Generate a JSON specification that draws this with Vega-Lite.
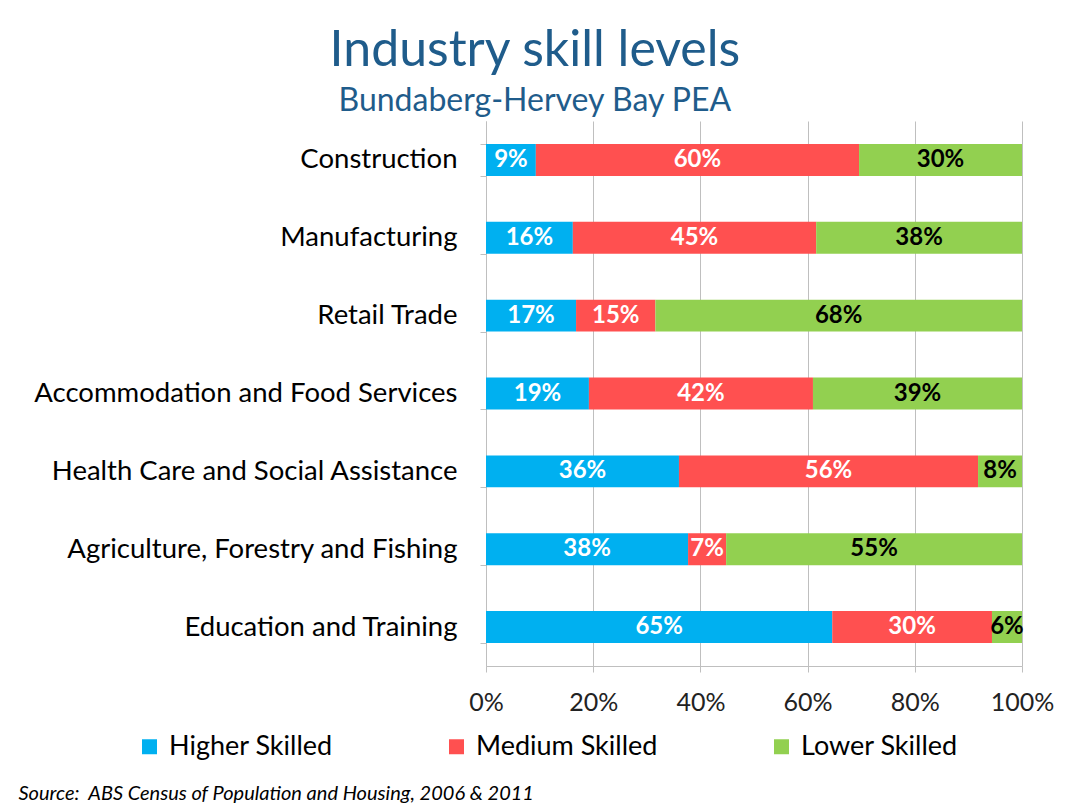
{
  "$schema": "https://vega.github.io/schema/vega-lite/v6.json",
  "width": 536,
  "height": 545,
  "padding": {"left": 16, "top": 26, "right": 20, "bottom": 5},
  "background": "white",
  "config": {"view": {"stroke": null}, "font": "Lato"},
  "title": {
    "text": "Industry skill levels",
    "subtitle": "Bundaberg-Hervey Bay PEA",
    "anchor": "middle",
    "frame": "bounds",
    "font": "Lato",
    "fontSize": 50,
    "fontWeight": "normal",
    "color": "#1F5C8B",
    "subtitleFont": "Lato",
    "subtitleFontSize": 32,
    "subtitleColor": "#1F5C8B",
    "subtitlePadding": 10,
    "offset": -10
  },
  "data": {
    "values": [
      {"industry": "Construction", "skill": "Higher Skilled", "share": 0.093},
      {"industry": "Construction", "skill": "Medium Skilled", "share": 0.603},
      {"industry": "Construction", "skill": "Lower Skilled", "share": 0.304},
      {"industry": "Manufacturing", "skill": "Higher Skilled", "share": 0.162},
      {"industry": "Manufacturing", "skill": "Medium Skilled", "share": 0.454},
      {"industry": "Manufacturing", "skill": "Lower Skilled", "share": 0.384},
      {"industry": "Retail Trade", "skill": "Higher Skilled", "share": 0.168},
      {"industry": "Retail Trade", "skill": "Medium Skilled", "share": 0.148},
      {"industry": "Retail Trade", "skill": "Lower Skilled", "share": 0.684},
      {"industry": "Accommodation and Food Services", "skill": "Higher Skilled", "share": 0.192},
      {"industry": "Accommodation and Food Services", "skill": "Medium Skilled", "share": 0.418},
      {"industry": "Accommodation and Food Services", "skill": "Lower Skilled", "share": 0.39},
      {"industry": "Health Care and Social Assistance", "skill": "Higher Skilled", "share": 0.36},
      {"industry": "Health Care and Social Assistance", "skill": "Medium Skilled", "share": 0.558},
      {"industry": "Health Care and Social Assistance", "skill": "Lower Skilled", "share": 0.082},
      {"industry": "Agriculture, Forestry and Fishing", "skill": "Higher Skilled", "share": 0.377},
      {"industry": "Agriculture, Forestry and Fishing", "skill": "Medium Skilled", "share": 0.071},
      {"industry": "Agriculture, Forestry and Fishing", "skill": "Lower Skilled", "share": 0.552},
      {"industry": "Education and Training", "skill": "Higher Skilled", "share": 0.646},
      {"industry": "Education and Training", "skill": "Medium Skilled", "share": 0.298},
      {"industry": "Education and Training", "skill": "Lower Skilled", "share": 0.056}
    ]
  },
  "transform": [
    {"calculate": "indexof(['Higher Skilled','Medium Skilled','Lower Skilled'], datum.skill)", "as": "k"},
    {"stack": "share", "groupby": ["industry"], "sort": [{"field": "k", "order": "ascending"}], "as": ["x0", "x1"]},
    {"calculate": "(datum.x0 + datum.x1) / 2", "as": "xm"}
  ],
  "encoding": {
    "y": {
      "field": "industry",
      "type": "nominal",
      "sort": null,
      "scale": {"paddingInner": 0.59, "paddingOuter": 0.295},
      "axis": {
        "title": null,
        "labelFont": "Lato",
        "labelFontSize": 27.5,
        "labelColor": "black",
        "labelLimit": 600,
        "labelPadding": 23,
        "tickBand": "extent",
        "tickSize": 6,
        "tickColor": "#BFBFBF",
        "domainColor": "#BFBFBF",
        "minExtent": 470,
        "maxExtent": 470,
        "grid": false
      }
    }
  },
  "layer": [
    {
      "mark": {"type": "bar"},
      "encoding": {
        "x": {
          "field": "x0",
          "type": "quantitative",
          "title": "Source:\u00a0 ABS Census of Population and Housing, 2006 & 2011",
          "scale": {"domain": [0, 1], "nice": false},
          "axis": {
            "format": ".0%",
            "values": [0, 0.2, 0.4, 0.6, 0.8, 1],
            "labelFont": "Lato",
            "labelFontSize": 25,
            "labelColor": "#222222",
            "labelFlush": false,
            "labelOverlap": false,
            "labelPadding": 18,
            "tickColor": "#BFBFBF",
            "tickSize": 6,
            "domainColor": "#BFBFBF",
            "grid": true,
            "gridColor": "#BFBFBF",
            "titleFont": "Lato",
            "titleFontStyle": "italic",
            "titleFontWeight": "normal",
            "titleFontSize": 20,
            "titleColor": "black",
            "titleAnchor": "start",
            "titleAlign": "left",
            "titleX": -468,
            "titleY": 133,
            "titleBaseline": "alphabetic"
          }
        },
        "x2": {"field": "x1"},
        "color": {
          "field": "skill",
          "type": "nominal",
          "scale": {"domain": ["Higher Skilled", "Medium Skilled", "Lower Skilled"], "range": ["#00B0F0", "#FF5050", "#92D050"]},
          "legend": {
            "orient": "none",
            "legendX": -350,
            "legendY": 612,
            "direction": "horizontal",
            "title": null,
            "symbolType": "square",
            "symbolSize": 225,
            "symbolStrokeWidth": 0,
            "labelFont": "Lato",
            "labelFontSize": 27,
            "labelColor": "black",
            "labelLimit": 400,
            "columnPadding": 110,
            "labelOffset": 6
          }
        }
      }
    },
    {
      "mark": {"type": "text", "font": "Lato", "fontSize": 24, "fontWeight": "bold"},
      "encoding": {
        "x": {"field": "xm", "type": "quantitative", "title": "Source:\u00a0 ABS Census of Population and Housing, 2006 & 2011"},
        "text": {"field": "share", "type": "quantitative", "format": ".0%"},
        "color": {"condition": {"test": "datum.skill === 'Lower Skilled'", "value": "black"}, "value": "white"}
      }
    }
  ]
}
